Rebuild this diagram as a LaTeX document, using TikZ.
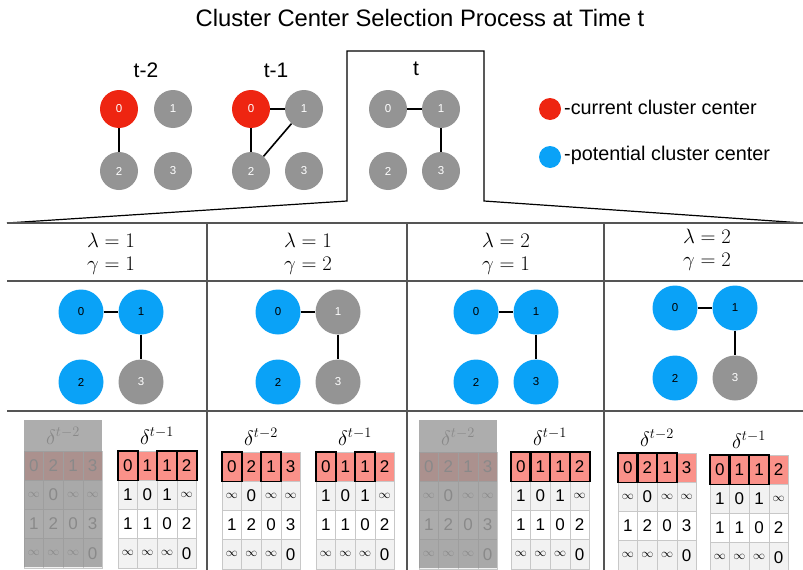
\documentclass[tikz,border=0pt]{standalone}
\usepackage{amsmath}
\usepackage{fontspec}
\setmainfont{Liberation Sans}
\usetikzlibrary{positioning,calc}
\definecolor{ctrRed}{HTML}{EE2511}
\definecolor{potBlue}{HTML}{0AA2F7}
\definecolor{nodeGray}{HTML}{949494}
\definecolor{salmon}{HTML}{FA9189}
\definecolor{cellGray}{HTML}{F2F2F2}
\definecolor{cellLine}{HTML}{C8C8C8}
\definecolor{ruleGray}{HTML}{555555}
\definecolor{fogGray}{HTML}{919191}

\newcommand{\infsym}{{\fontsize{13}{13}\selectfont$\infty$}}
\def\dprev{{0,2,1,3},{\infsym,0,\infsym,\infsym},{1,2,0,3},{\infsym,\infsym,\infsym,0}}
\def\dlast{{0,1,1,2},{1,0,1,\infsym},{1,1,0,2},{\infsym,\infsym,\infsym,0}}

% one distance matrix: name, x, y (top left), superscript, rows
\newcommand{\deltamat}[6][]{%
  \begin{scope}[shift={(#3,#4)},#1]
    \node[mathead] (#2-h) at (39,-15) {$\delta^{#5}$};
    \foreach \row [count=\i] in #6{
      \foreach \v [count=\j] in \row{
        \ifnum\i=1 \def\cellcol{salmon}\else\ifodd\i\def\cellcol{white}\else\def\cellcol{cellGray}\fi\fi
        \node[cell,fill=\cellcol] (#2-\i-\j) at ({(\j-0.5)*19.6},{(\i-0.5)*29.2}) {\v};
      }
    }
  \end{scope}}

\begin{document}
\begin{tikzpicture}[x=1pt,y=-1pt,
    vtx/.style={circle,minimum size=38pt,inner sep=0pt,font=\fontsize{11.5}{11.5}\selectfont,text=white,fill=nodeGray},
    bigvtx/.style={vtx,minimum size=45pt},
    cur/.style={fill=ctrRed},
    pot/.style={fill=potBlue,text=black},
    link/.style={line width=1.6pt},
    tabline/.style={draw=ruleGray,line width=1.2pt},
    cell/.style={draw=cellLine,line width=0.6pt,minimum width=19.6pt,minimum height=29.2pt,inner sep=0pt,font=\fontsize{17}{17}\selectfont},
    chosen/.style={draw=black,line width=1.8pt},
    mathead/.style={font=\fontsize{22}{22}\selectfont},
    fogged/.style={fill=fogGray,fill opacity=0.75},
    hdr/.style={align=center,font=\fontsize{20}{23}\selectfont},
    lbl/.style={font=\fontsize{21}{21}\selectfont}]
  \useasboundingbox (0,0) rectangle (803,570);

  \node[font=\fontsize{23.8}{23.8}\selectfont] (title) at (420,18) {Cluster Center Selection Process at Time t};

  % time steps
  \node[lbl] (lt2) at (146,70) {t-2};
  \node[lbl] (lt1) at (276,70) {t-1};
  \node[lbl] (lt0) at (416,69) {t};

  \node[vtx,cur] (a0) at (119,109) {0};
  \node[vtx] (a1) at (173,109) {1};
  \node[vtx] (a2) at (119,171) {2};
  \node[vtx] (a3) at (173,171) {3};
  \draw[link] (a0) -- (a2);

  \node[vtx,cur] (b0) at (251,109) {0};
  \node[vtx] (b1) at (304,109) {1};
  \node[vtx] (b2) at (251,171) {2};
  \node[vtx] (b3) at (304,171) {3};
  \draw[link] (b0) -- (b1);
  \draw[link] (b0) -- (b2);
  \draw[link] (b1) -- (b2);

  \node[vtx] (c0) at (388,109) {0};
  \node[vtx] (c1) at (441,109) {1};
  \node[vtx] (c2) at (388,171) {2};
  \node[vtx] (c3) at (441,171) {3};
  \draw[link] (c0) -- (c1);
  \draw[link] (c1) -- (c3);

  % legend
  \node[circle,fill=ctrRed,minimum size=22pt,inner sep=0pt] (kred) at (550,109) {};
  \node[anchor=west,inner sep=0pt,font=\fontsize{19.8}{19.8}\selectfont] (tred) at (564,107) {-current cluster center};
  \node[circle,fill=potBlue,minimum size=22pt,inner sep=0pt] (kblue) at (550,157) {};
  \node[anchor=west,inner sep=0pt,font=\fontsize{19.8}{19.8}\selectfont] (tblue) at (564,155) {-potential cluster center};

  % zoom box and table frame
  \coordinate (tabL) at (7,223);
  \coordinate (tabR) at (803,223);
  \coordinate (boxSW) at (347,201);
  \coordinate (boxNW) at (347,51);
  \coordinate (boxNE) at (484,51);
  \coordinate (boxSE) at (484,201);
  \draw[line width=1.2pt] (tabL) -- (boxSW) -- (boxNW) -- (boxNE) -- (boxSE) -- (tabR);
  \draw[tabline] (tabL) -- (tabR);
  \draw[tabline] (7,281) -- (803,281);
  \draw[tabline] (7,411) -- (803,411);
  \foreach \cx in {207,407,604}
    \draw[tabline] (\cx,223) -- (\cx,570);

  \node[hdr] (h1) at (111,254) {$\lambda = 1$\\$\gamma = 1$};
  \node[hdr] (h2) at (308,254) {$\lambda = 1$\\$\gamma = 2$};
  \node[hdr] (h3) at (506,254) {$\lambda = 2$\\$\gamma = 1$};
  \node[hdr] (h4) at (707,250) {$\lambda = 2$\\$\gamma = 2$};

  % candidate graphs
  \node[bigvtx,pot] (p0) at (81,312) {0};
  \node[bigvtx,pot] (p1) at (141,312) {1};
  \node[bigvtx,pot] (p2) at (81,382) {2};
  \node[bigvtx] (p3) at (141,382) {3};
  \draw[link] (p0) -- (p1);
  \draw[link] (p1) -- (p3);

  \node[bigvtx,pot] (q0) at (278,312) {0};
  \node[bigvtx] (q1) at (338,312) {1};
  \node[bigvtx,pot] (q2) at (278,382) {2};
  \node[bigvtx] (q3) at (338,382) {3};
  \draw[link] (q0) -- (q1);
  \draw[link] (q1) -- (q3);

  \node[bigvtx,pot] (r0) at (476,312) {0};
  \node[bigvtx,pot] (r1) at (536,312) {1};
  \node[bigvtx,pot] (r2) at (476,382) {2};
  \node[bigvtx,pot] (r3) at (536,382) {3};
  \draw[link] (r0) -- (r1);
  \draw[link] (r1) -- (r3);

  \node[bigvtx,pot] (s0) at (675,308) {0};
  \node[bigvtx,pot] (s1) at (735,308) {1};
  \node[bigvtx,pot] (s2) at (675,378) {2};
  \node[bigvtx] (s3) at (735,378) {3};
  \draw[link] (s0) -- (s1);
  \draw[link] (s1) -- (s3);

  % distance matrices
  \deltamat[text=black!55]{m1a}{24}{451}{t-2}{\dprev}
  \fill[fogged] (24,420) rectangle (102,567);
  \deltamat{m1b}{118}{451}{t-1}{\dlast}
  \foreach \k in {1,3,4}
    \draw[chosen] (m1b-1-\k.north west) rectangle (m1b-1-\k.south east);

  \deltamat{m2a}{222}{452}{t-2}{\dprev}
  \deltamat{m2b}{316}{452}{t-1}{\dlast}
  \foreach \k in {1,3}{
    \draw[chosen] (m2a-1-\k.north west) rectangle (m2a-1-\k.south east);
    \draw[chosen] (m2b-1-\k.north west) rectangle (m2b-1-\k.south east);
  }

  \deltamat[text=black!55]{m3a}{419}{452}{t-2}{\dprev}
  \fill[fogged] (419,420) rectangle (497,568);
  \deltamat{m3b}{511}{452}{t-1}{\dlast}
  \foreach \k in {1,2,3,4}
    \draw[chosen] (m3b-1-\k.north west) rectangle (m3b-1-\k.south east);

  \deltamat{m4a}{618}{453}{t-2}{\dprev}
  \deltamat{m4b}{710}{455}{t-1}{\dlast}
  \foreach \k in {1,2,3}{
    \draw[chosen] (m4a-1-\k.north west) rectangle (m4a-1-\k.south east);
    \draw[chosen] (m4b-1-\k.north west) rectangle (m4b-1-\k.south east);
  }
\end{tikzpicture}
\end{document}
